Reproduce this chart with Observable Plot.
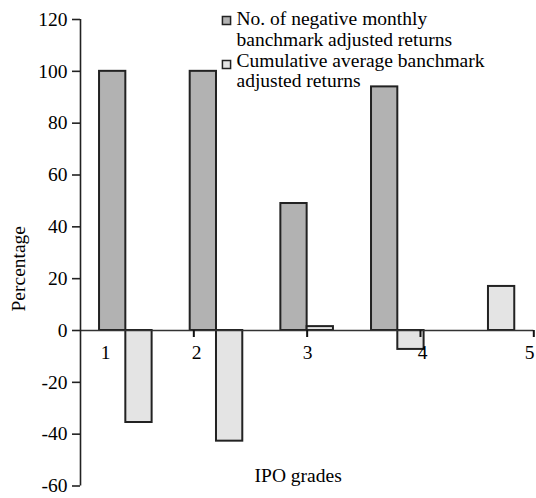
<!DOCTYPE html>
<html>
<head>
<meta charset="utf-8">
<script src="https://cdn.jsdelivr.net/npm/d3@7"></script>
<script src="https://cdn.jsdelivr.net/npm/@observablehq/plot@0.6"></script>
<style>
  html, body { margin: 0; padding: 0; background: #fff; }
  svg { display: block; }
</style>
</head>
<body>
<div id="chart"></div>
<script>
// ---- data ----
const grades = ["1", "2", "3", "4", "5"];
const negativeMonthly = [100, 100, 49, 94, null];
const cumulativeAvg = [-35.5, -42.7, 1.5, -7.3, 17];
const seriesNames = [
  ["No. of negative monthly", "banchmark adjusted returns"],
  ["Cumulative average banchmark", "adjusted returns"]
];
const seriesColors = ["#b2b2b2", "#e4e4e4"];
const yTicks = [-60, -40, -20, 0, 20, 40, 60, 80, 100, 120];
const yTitle = "Percentage";
const xTitle = "IPO grades";

// ---- layout constants ----
const W = 536, H = 498;
const mL = 80, mR = 2.7, mT = 19, mB = 12.5;
const FONT = "Liberation Serif, Times New Roman, serif";
const FS = 19.5;
const barStart = 0.21, barWidth = 0.29; // within a category band (band = 1 unit)
const tickStep = 1.25;
const labelShift = [0.276, 0.03, 0.005, 0.025, -0.045];

const rows = [];
grades.forEach((g, i) => {
  if (negativeMonthly[i] != null) rows.push({i, s: 0, v: negativeMonthly[i]});
  if (cumulativeAvg[i] != null) rows.push({i, s: 1, v: cumulativeAvg[i]});
});

const xTicks = grades.map((g, k) => ({k, label: g, x: k * tickStep}));

const legendLines = [];
seriesNames.forEach((lines, s) => lines.forEach((t, j) => legendLines.push({s, j, t})));

const chart = Plot.plot({
  width: W,
  height: H,
  marginLeft: mL,
  marginRight: mR,
  marginTop: mT,
  marginBottom: mB,
  style: {fontFamily: FONT, fontSize: FS + "px", color: "#000", background: "#fff"},
  x: {type: "linear", domain: [0, grades.length], axis: null},
  y: {domain: [-60, 120], axis: null},
  marks: [
    // bars
    Plot.rectY(rows, {
      x1: d => d.i + barStart + d.s * barWidth,
      x2: d => d.i + barStart + (d.s + 1) * barWidth,
      y1: 0,
      y2: d => d.v,
      fill: d => seriesColors[d.s],
      stroke: "#222",
      strokeWidth: 2
    }),
    // zero baseline
    Plot.ruleY([0], {x1: 0, x2: grades.length, stroke: "#333", strokeWidth: 1.6}),
    // x ticks
    Plot.ruleX(xTicks.slice(1), {x: "x", y1: 0, y2: 0, insetBottom: -7, stroke: "#111", strokeWidth: 2}),
    // x tick labels
    Plot.text(xTicks, {
      x: d => d.x + labelShift[d.k],
      y: 0,
      text: "label",
      lineAnchor: "bottom",
      dy: 28.5,
      fill: "#000"
    }),
    // y axis line
    Plot.ruleX([0], {y1: -60, y2: 120, stroke: "#222", strokeWidth: 1.6}),
    // y axis ticks & labels
    Plot.axisY({
      ticks: yTicks,
      tickSize: 8,
      tickPadding: 5,
      tickFormat: d => String(d),
      stroke: "#222",
      strokeWidth: 1.6,
      fontSize: FS,
      fontFamily: FONT
    }),
    // y title
    Plot.text([yTitle], {
      frameAnchor: "left",
      text: d => d,
      textAnchor: "middle",
      rotate: -90,
      dx: -62,
      dy: 16,
      fill: "#000"
    }),
    // x title
    Plot.text([xTitle], {
      frameAnchor: "bottom",
      text: d => d,
      textAnchor: "middle",
      lineAnchor: "bottom",
      dx: -9,
      dy: -4,
      fill: "#000"
    }),
    // legend swatches
    Plot.dot([0], {
      frameAnchor: "top-left",
      symbol: "square",
      r: 4.6,
      fill: seriesColors[0],
      stroke: "#222",
      strokeWidth: 1.5,
      dx: 146,
      dy: 1
    }),
    Plot.dot([1], {
      frameAnchor: "top-left",
      symbol: "square",
      r: 4.6,
      fill: seriesColors[1],
      stroke: "#222",
      strokeWidth: 1.5,
      dx: 146,
      dy: 45
    }),
    // legend text
    Plot.text(legendLines, {
      frameAnchor: "top-left",
      text: "t",
      textAnchor: "start",
      lineAnchor: "bottom",
      dx: 156,
      dy: 5.5,
      fill: "#000"
    })
  ]
});

// offset legend lines vertically (Plot applies a single dy per mark)
chart.querySelectorAll("g[aria-label='text']").forEach(g => {
  const texts = g.querySelectorAll("text");
  if (texts.length === legendLines.length && texts[0].textContent === legendLines[0].t) {
    texts.forEach((t, n) => {
      const tr = t.getAttribute("transform") || "";
      t.setAttribute("transform", tr + ` translate(0,${n * 20.8})`);
    });
  }
});

document.getElementById("chart").appendChild(chart);
</script>
</body>
</html>
